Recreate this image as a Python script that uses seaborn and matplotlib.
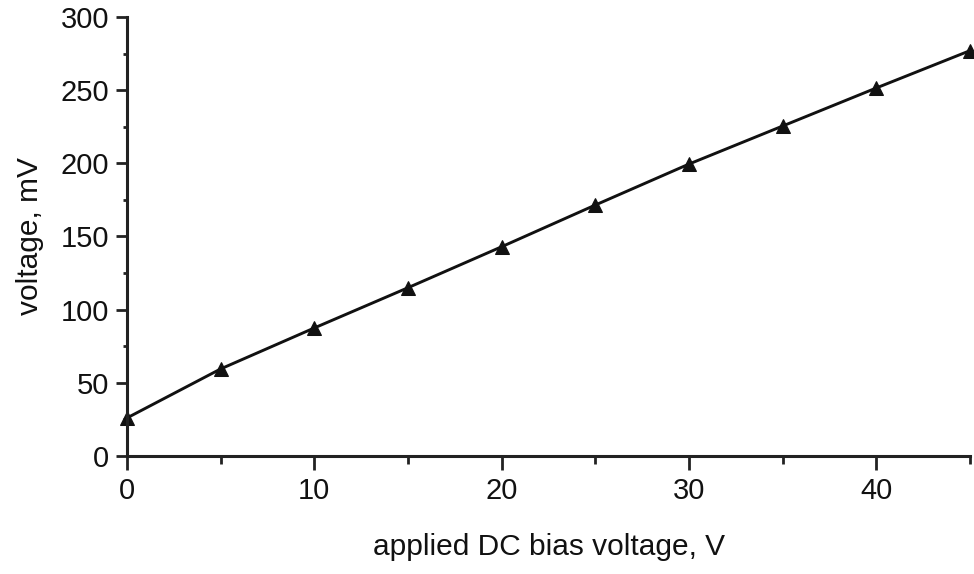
import matplotlib
matplotlib.use("Agg")
import matplotlib.pyplot as plt
import seaborn as sns
import pandas as pd
from matplotlib.ticker import MultipleLocator

bias_v = [0, 5, 10, 15, 20, 25, 30, 35, 40, 45]
voltage_mv = [26, 59.5, 87.5, 115, 143, 171.5, 199.5, 225.5, 251.5, 277]

sns.set_style("ticks")
plt.rcParams['font.family'] = ['Liberation Sans', 'DejaVu Sans']

fig = plt.figure(figsize=(9.74, 5.74), dpi=100)
ax = fig.add_axes([0.1304, 0.2056, 0.8655, 0.7648])

df = pd.DataFrame({"bias": bias_v, "voltage": voltage_mv})
sns.lineplot(data=df, x="bias", y="voltage", ax=ax, color="#111111",
             linewidth=2.1, marker="^", markersize=10, markeredgecolor="#111111",
             markerfacecolor="#111111", clip_on=False)

ax.set_xlim(0, 45)
ax.set_ylim(0, 300)
ax.xaxis.set_major_locator(MultipleLocator(10))
ax.xaxis.set_minor_locator(MultipleLocator(5))
ax.yaxis.set_major_locator(MultipleLocator(50))
ax.yaxis.set_minor_locator(MultipleLocator(25))

for s in ["top", "right"]:
    ax.spines[s].set_visible(False)
for s in ["left", "bottom"]:
    ax.spines[s].set_linewidth(2.2)
    ax.spines[s].set_color("#222222")

ax.tick_params(axis="both", which="major", direction="out", length=8, width=2,
               labelsize=21, colors="#222222", labelcolor="#111111", pad=5)
ax.tick_params(axis="x", which="major", length=10)
ax.tick_params(axis="both", which="minor", direction="out", length=3, width=2,
               colors="#222222")
ax.tick_params(axis="x", which="minor", length=6)

ax.set_xlabel("applied DC bias voltage, V", fontsize=21.5, labelpad=20, color="#111111")
ax.set_ylabel("voltage, mV", fontsize=21.5, labelpad=12, color="#111111")

fig.savefig("out.png", dpi=100)
